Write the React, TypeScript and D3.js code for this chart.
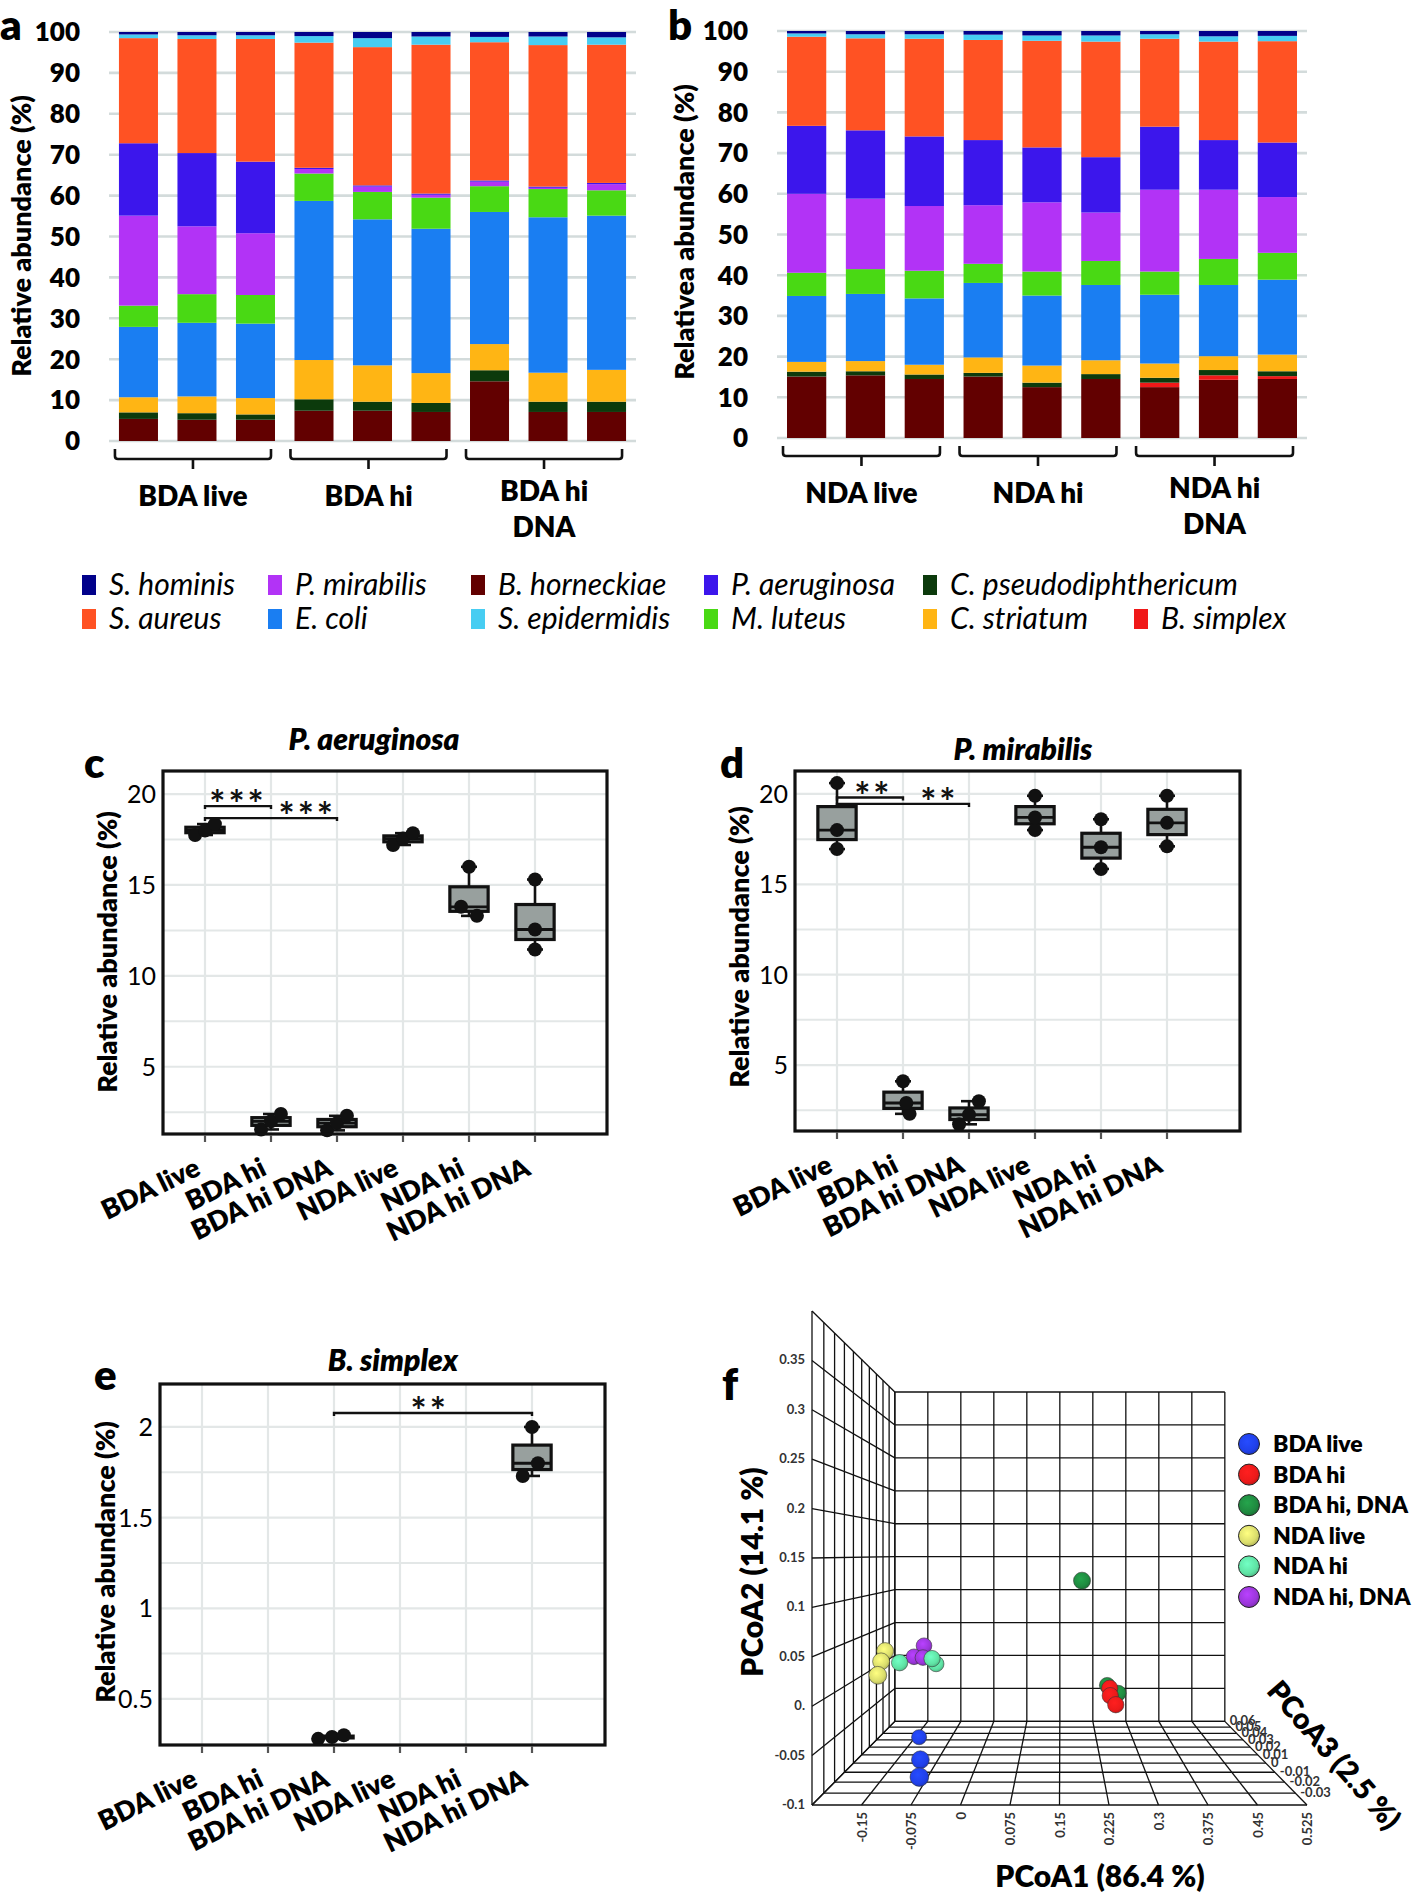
import React from 'react';
import * as d3 from 'd3';

const FONT = "Lato, 'Open Sans', 'DejaVu Sans', sans-serif";
const BOLD = 800;
const W = 1418;
const H = 1892;

// ---------------- panels a & b : stacked relative abundance ----------------
const speciesNames = ['B. horneckiae', 'B. simplex', 'C. pseudodiphthericum', 'C. striatum', 'E. coli', 'M. luteus', 'P. mirabilis', 'P. aeruginosa', 'S. aureus', 'S. epidermidis', 'S. hominis'];
const speciesColors = ['#620000', '#f01818', '#0c3a0c', '#ffb514', '#1a7ef2', '#49d914', '#b233f6', '#3c16ec', '#ff5223', '#47cdf2', '#01018a'];

const samplesA = ['BDA live 1', 'BDA live 2', 'BDA live 3', 'BDA hi 1', 'BDA hi 2', 'BDA hi 3', 'BDA hi DNA 1', 'BDA hi DNA 2', 'BDA hi DNA 3'];
const samplesB = ['NDA live 1', 'NDA live 2', 'NDA live 3', 'NDA hi 1', 'NDA hi 2', 'NDA hi 3', 'NDA hi DNA 1', 'NDA hi DNA 2', 'NDA hi DNA 3'];
const groupLabelsA = [['BDA live'], ['BDA hi'], ['BDA hi', 'DNA']];
const groupLabelsB = [['NDA live'], ['NDA hi'], ['NDA hi', 'DNA']];
const stackTicks = [0, 10, 20, 30, 40, 50, 60, 70, 80, 90, 100];

// panel a values (%), one array per species, one entry per sample
const aHorneckiae = [5.4, 5.2, 5.2, 7.4, 7.4, 7.1, 14.6, 7.1, 7.1];
const aSimplex = [0, 0, 0, 0, 0, 0, 0, 0, 0];
const aPseudo = [1.6, 1.6, 1.3, 2.8, 2.2, 2.2, 2.7, 2.5, 2.5];
const aStriatum = [3.7, 4.1, 4.0, 9.6, 8.9, 7.3, 6.4, 7.1, 7.8];
const aColi = [17.2, 18.0, 18.2, 38.9, 35.7, 35.3, 32.3, 38.0, 37.7];
const aLuteus = [5.2, 7.0, 7.0, 6.7, 6.7, 7.6, 6.3, 6.9, 6.2];
const aMirabilis = [22.0, 16.6, 15.1, 1.1, 1.3, 0.7, 1.1, 0.3, 1.5];
const aAeruginosa = [17.7, 17.9, 17.5, 0.3, 0.3, 0.3, 0.3, 0.3, 0.3];
const aAureus = [25.7, 27.9, 30.0, 30.6, 33.8, 36.4, 33.8, 34.6, 33.8];
const aEpidermidis = [0.9, 0.9, 0.9, 1.6, 2.2, 2.0, 1.3, 2.1, 1.8];
const aHominis = [0.6, 0.8, 0.8, 1.0, 1.5, 1.1, 1.2, 1.1, 1.3];

// panel b values (%)
const bHorneckiae = [15.1, 15.4, 14.5, 15.1, 12.5, 14.5, 12.5, 14.3, 14.5];
const bSimplex = [0, 0, 0, 0, 0, 0, 1.1, 1.1, 0.7];
const bPseudo = [1.2, 1.0, 1.1, 0.9, 1.1, 1.2, 1.2, 1.3, 1.2];
const bStriatum = [2.4, 2.5, 2.4, 3.8, 4.2, 3.4, 3.5, 3.4, 4.1];
const bColi = [16.2, 16.5, 16.3, 18.3, 17.2, 18.5, 16.9, 17.5, 18.4];
const bLuteus = [5.7, 6.1, 6.8, 4.7, 5.9, 5.9, 5.7, 6.4, 6.6];
const bMirabilis = [19.4, 17.3, 15.9, 14.4, 17.0, 11.9, 20.1, 17.0, 13.7];
const bAeruginosa = [16.7, 16.8, 17.1, 16.0, 13.5, 13.6, 15.5, 12.2, 13.4];
const bAureus = [21.9, 22.6, 24.0, 24.6, 26.2, 28.4, 21.6, 24.2, 24.9];
const bEpidermidis = [0.8, 1.0, 1.1, 1.3, 1.3, 1.5, 1.1, 1.3, 1.3];
const bHominis = [0.6, 0.8, 0.8, 0.9, 1.1, 1.1, 0.8, 1.3, 1.2];

const legendRow1 = ['S. hominis', 'P. mirabilis', 'B. horneckiae', 'P. aeruginosa', 'C. pseudodiphthericum'];
const legendRow2 = ['S. aureus', 'E. coli', 'S. epidermidis', 'M. luteus', 'C. striatum', 'B. simplex'];

// ---------------- panels c, d, e : box plots ----------------
const boxCategories = ['BDA live', 'BDA hi', 'BDA hi DNA', 'NDA live', 'NDA hi', 'NDA hi DNA'];
const aeruginosaPoints = [[17.75, 18.0, 18.35], [1.55, 2.0, 2.4], [1.5, 1.9, 2.3], [17.2, 17.55, 17.85], [13.3, 13.8, 16.0], [11.45, 12.55, 15.3]];
const aeruginosaJitter = [[-0.15, 0, 0.15], [-0.15, 0, 0.15], [-0.15, 0, 0.15], [-0.15, 0, 0.15], [0.12, -0.12, 0], [0, 0, 0]];
const mirabilisPoints = [[16.95, 18.0, 20.6], [2.3, 2.9, 4.1], [1.72, 2.25, 3.0], [18.0, 18.7, 19.9], [15.85, 17.05, 18.6], [17.1, 18.4, 19.9]];
const mirabilisJitter = [[0, 0, 0], [0.1, 0.05, 0], [-0.15, 0, 0.15], [0, 0, 0], [0, 0, 0], [0, 0, 0]];
const simplexPoints = [[], [], [0.28, 0.29, 0.3], [], [], [1.73, 1.8, 2.0]];
const simplexJitter = [[], [], [-0.24, -0.03, 0.15], [], [], [-0.14, 0.09, 0]];

const aeruginosaSig = [
  { from: 'BDA live', to: 'BDA hi', y: 19.34, label: '***', at: 0.5 },
  { from: 'BDA live', to: 'BDA hi DNA', y: 18.68, label: '***', at: 1.55 },
];
const mirabilisSig = [
  { from: 'BDA live', to: 'BDA hi', y: 19.8, label: '**', at: 0.55 },
  { from: 'BDA live', to: 'BDA hi DNA', y: 19.45, label: '**', at: 1.55 },
];
const simplexSig = [{ from: 'BDA hi DNA', to: 'NDA hi DNA', y: 2.077, label: '**', at: 3.45 }];

const pcTicks20 = [5, 10, 15, 20];
const pcMinor20 = [2.5, 7.5, 12.5, 17.5];
const bsTicks = [0.5, 1, 1.5, 2];
const bsMinor = [0.75, 1.25, 1.75];

// ---------------- panel f : PCoA ----------------
const pcoaGroups = ['BDA live', 'BDA hi', 'BDA hi, DNA', 'NDA live', 'NDA hi', 'NDA hi, DNA'];
const pcoaColors = ['#2040ea', '#ec1a1a', '#1f8a40', '#dadd6c', '#5fe3a4', '#9b36da'];
const pcoaGroupOf = [0, 0, 0, 1, 1, 1, 2, 2, 2, 3, 3, 3, 4, 4, 4, 5, 5, 5];
const pcoa1 = [-0.127, -0.082, -0.073, 0.241, 0.242, 0.252, 0.240, 0.261, 0.189, -0.154, -0.161, -0.153, -0.141, -0.082, -0.084, -0.107, -0.126, -0.109];
const pcoa2 = [-0.087, -0.075, -0.083, -0.009, -0.018, -0.029, -0.012, -0.022, 0.123, 0.041, 0.029, 0.019, 0.022, 0.027, 0.015, 0.038, 0.024, 0.023];
const pcoa3 = [0.02, -0.02, -0.03, 0.0, 0.0, 0.0, 0.01, 0.01, -0.01, -0.01, -0.01, -0.02, 0.0, 0.0, 0.01, 0.01, 0.01, 0.01];
const pc1Ticks = [-0.225, -0.15, -0.075, 0, 0.075, 0.15, 0.225, 0.3, 0.375, 0.45, 0.525];
const pc1Labels = ['', '-0.15', '-0.075', '0', '0.075', '0.15', '0.225', '0.3', '0.375', '0.45', '0.525'];
const pc2Ticks = [-0.1, -0.05, 0, 0.05, 0.1, 0.15, 0.2, 0.25, 0.3, 0.35, 0.4];
const pc2Labels = ['-0.1', '-0.05', '0.', '0.05', '0.1', '0.15', '0.2', '0.25', '0.3', '0.35', ''];
const pc3Ticks = [-0.04, -0.03, -0.02, -0.01, 0, 0.01, 0.02, 0.03, 0.04, 0.05, 0.06];
const pc3Labels = ['', '-0.03', '-0.02', '-0.01', '0', '0.01', '0.02', '0.03', '0.04', '0.05', '0.06'];

// ============================================================================

function buildRows(samples: string[], cols: number[][]) {
  return samples.map((s, i) => {
    const r: any = { sample: s };
    speciesNames.forEach((sp, k) => { r[sp] = cols[k][i]; });
    return r;
  });
}

const rowsA = buildRows(samplesA, [aHorneckiae, aSimplex, aPseudo, aStriatum, aColi, aLuteus, aMirabilis, aAeruginosa, aAureus, aEpidermidis, aHominis]);
const rowsB = buildRows(samplesB, [bHorneckiae, bSimplex, bPseudo, bStriatum, bColi, bLuteus, bMirabilis, bAeruginosa, bAureus, bEpidermidis, bHominis]);

function StackPanel(props: any) {
  const { samples, rows, groups, gx0, gx1, y0, y100, tickRight, title, titleX, titleY, letter, letterX } = props;
  const x = d3.scaleBand().domain(samples).range([gx0, gx1]).paddingInner(0.333).paddingOuter(0.17);
  const y = d3.scaleLinear().domain([0, 100]).range([y0, y100]);
  const series = d3.stack().keys(speciesNames)(rows);
  const bw = x.bandwidth();
  return (
    <g>
      {stackTicks.map((t) => (
        <g key={t}>
          <line x1={gx0} x2={gx1} y1={y(t)} y2={y(t)} stroke="#d3dbdb" strokeWidth={2.6} />
          <text x={tickRight} y={y(t)} dy="0.36em" textAnchor="end" fontSize={26} fontWeight={BOLD} fontFamily={FONT}>{t}</text>
        </g>
      ))}
      {series.map((s: any, k: number) => (
        <g key={k} fill={speciesColors[k]}>
          {s.map((d: any, i: number) => (d[1] - d[0] > 0 ? (
            <rect key={i} x={x(samples[i])} width={bw} y={y(d[1])} height={y(d[0]) - y(d[1])} />
          ) : null))}
        </g>
      ))}
      {groups.map((lab: string[], gi: number) => {
        const xa = (x(samples[gi * 3]) as number) - 4;
        const xb = (x(samples[gi * 3 + 2]) as number) + bw - 4;
        const xc = (xa + xb) / 2;
        const top = y0 + 8, hy = y0 + 18, bot = y0 + 28;
        return (
          <g key={gi}>
            <path d={`M${xa},${top} L${xa},${hy - 3} Q${xa},${hy} ${xa + 3},${hy} L${xb - 3},${hy} Q${xb},${hy} ${xb},${hy - 3} L${xb},${top} M${xc},${hy} L${xc},${bot}`}
              fill="none" stroke="#111" strokeWidth={2.6} strokeLinejoin="round" />
            {lab.length === 1 ? (
              <text x={xc} y={y0 + 65} textAnchor="middle" fontSize={28} fontWeight={BOLD} fontFamily={FONT}>{lab[0]}</text>
            ) : (
              <g>
                <text x={xc} y={y0 + 60} textAnchor="middle" fontSize={28} fontWeight={BOLD} fontFamily={FONT}>{lab[0]}</text>
                <text x={xc} y={y0 + 96} textAnchor="middle" fontSize={28} fontWeight={BOLD} fontFamily={FONT}>{lab[1]}</text>
              </g>
            )}
          </g>
        );
      })}
      <text transform={`translate(${titleX},${titleY}) rotate(-90)`} textAnchor="middle" fontSize={27} fontWeight={BOLD} fontFamily={FONT}>{title}</text>
      <text x={letterX} y={40} fontSize={42} fontWeight={BOLD} fontFamily={FONT}>{letter}</text>
    </g>
  );
}

function Legend() {
  const cols = [82, 268, 471, 704, 923, 1134];
  const rowsY = [585, 619];
  const colorOf = (n: string) => speciesColors[speciesNames.indexOf(n)];
  return (
    <g>
      {[legendRow1, legendRow2].map((row, ri) => row.map((n, ci) => (
        <g key={n}>
          <rect x={cols[ci]} y={rowsY[ri] - 10} width={14} height={20} fill={colorOf(n)} />
          <text x={cols[ci] + 27} y={rowsY[ri] + 10} fontSize={30} fontStyle="italic" fontFamily={FONT}>{n}</text>
        </g>
      )))}
    </g>
  );
}

function BoxPanel(props: any) {
  const { left, right, top, bottom, domain, points, jitter, sig, ticks, minor, title, titleX, titleY, letter, letterX, letterY, yTitleX, yTitleY, tickFmt } = props;
  const x = d3.scalePoint().domain(boxCategories).range([left + 42, left + 372]);
  const step = x.step();
  const y = d3.scaleLinear().domain(domain).range([bottom, top]);
  const bwid = step * 0.58;
  const capW = 16;
  return (
    <g>
      {minor.map((t: number) => <line key={'m' + t} x1={left} x2={right} y1={y(t)} y2={y(t)} stroke="#e3e7e7" strokeWidth={2} />)}
      {ticks.map((t: number) => <line key={'g' + t} x1={left} x2={right} y1={y(t)} y2={y(t)} stroke="#e3e7e7" strokeWidth={2.2} />)}
      {boxCategories.map((c) => <line key={'v' + c} x1={x(c)} x2={x(c)} y1={top} y2={bottom} stroke="#e3e7e7" strokeWidth={2.2} />)}
      {ticks.map((t: number) => (
        <text key={'t' + t} x={left - 7} y={y(t)} dy="0.36em" textAnchor="end" fontSize={25} fontFamily={FONT}>{tickFmt(t)}</text>
      ))}
      {boxCategories.map((c, i) => {
        const pts = (points[i] as number[]).slice().sort(d3.ascending);
        if (!pts.length) return null;
        const q1 = d3.quantile(pts, 0.25) as number;
        const med = d3.quantile(pts, 0.5) as number;
        const q3 = d3.quantile(pts, 0.75) as number;
        const lo = d3.min(pts) as number;
        const hi = d3.max(pts) as number;
        const cx = x(c) as number;
        return (
          <g key={c}>
            <line x1={cx} x2={cx} y1={y(hi)} y2={y(q3)} stroke="#111" strokeWidth={2.6} />
            <line x1={cx} x2={cx} y1={y(q1)} y2={y(lo)} stroke="#111" strokeWidth={2.6} />
            <line x1={cx - capW / 2} x2={cx + capW / 2} y1={y(hi)} y2={y(hi)} stroke="#111" strokeWidth={2.6} />
            <line x1={cx - capW / 2} x2={cx + capW / 2} y1={y(lo)} y2={y(lo)} stroke="#111" strokeWidth={2.6} />
            <rect x={cx - bwid / 2} width={bwid} y={y(q3)} height={Math.max(y(q1) - y(q3), 1)} fill="#98a09e" stroke="#111" strokeWidth={3.2} />
            <line x1={cx - bwid / 2} x2={cx + bwid / 2} y1={y(med)} y2={y(med)} stroke="#111" strokeWidth={2.8} />
            {(points[i] as number[]).map((v: number, k: number) => (
              <circle key={k} cx={cx + jitter[i][k] * step} cy={y(v)} r={7} fill="#111" />
            ))}
          </g>
        );
      })}
      {sig.map((s: any, k: number) => {
        const xa = x(s.from) as number;
        const xb = x(s.to) as number;
        const yy = y(s.y);
        const lx = (x(boxCategories[0]) as number) + s.at * step;
        return (
          <g key={k}>
            <path d={`M${xa},${yy + 3} L${xa},${yy} L${xb},${yy} L${xb},${yy + 3}`} fill="none" stroke="#111" strokeWidth={2.4} />
            <text x={lx} y={yy + 12} textAnchor="middle" fontSize={38} fontWeight={700} letterSpacing={3} fontFamily={FONT} fill="#111">{s.label}</text>
          </g>
        );
      })}
      <rect x={left} y={top} width={right - left} height={bottom - top} fill="none" stroke="#111" strokeWidth={3.2} />
      {boxCategories.map((c) => (
        <g key={'x' + c}>
          <line x1={x(c)} x2={x(c)} y1={bottom + 1} y2={bottom + 8} stroke="#555" strokeWidth={2.2} />
          <text transform={`translate(${(x(c) as number) - 3},${bottom + 40}) rotate(-26)`} textAnchor="end" fontSize={27} fontWeight={BOLD} fontFamily={FONT}>{c}</text>
        </g>
      ))}
      <text x={titleX} y={titleY} textAnchor="middle" fontSize={30} fontWeight={BOLD} fontStyle="italic" fontFamily={FONT}>{title}</text>
      <text transform={`translate(${yTitleX},${yTitleY}) rotate(-90)`} textAnchor="middle" fontSize={27} fontWeight={BOLD} fontFamily={FONT}>Relative abundance (%)</text>
      <text x={letterX} y={letterY} fontSize={42} fontWeight={BOLD} fontFamily={FONT}>{letter}</text>
    </g>
  );
}

function PcoaPanel() {
  const xF = d3.scaleLinear().domain([-0.225, 0.525]).range([812, 1307]);
  const yF = d3.scaleLinear().domain([-0.1, 0.4]).range([1805, 1311]);
  const tZ = d3.scaleLinear().domain([-0.04, 0.06]).range([0, 1]);
  const vx = 1060.5, vy = 1554;
  const proj = (a: number, b: number, c: number) => {
    const s = 1 / (1 + 0.5 * tZ(c));
    return [vx + s * (xF(a) - vx), vy + s * (yF(b) - vy), s];
  };
  const lines: any[] = [];
  const seg = (p: number[], q: number[], key: string) => lines.push(<line key={key} x1={p[0]} y1={p[1]} x2={q[0]} y2={q[1]} stroke="#111" strokeWidth={1.3} />);
  const x0 = -0.225, x1 = 0.525, y0 = -0.1, y1 = 0.4, zF = -0.04, zB = 0.06;
  pc1Ticks.forEach((v, i) => { seg(proj(v, y0, zB), proj(v, y1, zB), 'bx' + i); seg(proj(v, y0, zF), proj(v, y0, zB), 'fx' + i); });
  pc2Ticks.forEach((v, i) => { seg(proj(x0, v, zB), proj(x1, v, zB), 'by' + i); seg(proj(x0, v, zF), proj(x0, v, zB), 'ly' + i); });
  pc3Ticks.forEach((v, i) => { seg(proj(x0, y0, v), proj(x1, y0, v), 'fz' + i); seg(proj(x0, y0, v), proj(x0, y1, v), 'lz' + i); });

  const order = d3.range(pcoa1.length).sort((a, b) => d3.descending(pcoa3[a], pcoa3[b]));
  return (
    <g>
      <defs>
        {pcoaColors.map((c, i) => (
          <radialGradient key={i} id={'sph' + i} cx="0.42" cy="0.38" r="0.65">
            <stop offset="0%" stopColor={d3.color(c)!.brighter(0.5).formatHex()} />
            <stop offset="70%" stopColor={c} />
            <stop offset="100%" stopColor={d3.color(c)!.darker(0.6).formatHex()} />
          </radialGradient>
        ))}
      </defs>
      {lines}
      {pc2Ticks.map((v, i) => (
        <text key={'yl' + i} x={805} y={yF(v) + 4} textAnchor="end" fontSize={13} fontWeight={700} fill="#333" fontFamily={FONT}>{pc2Labels[i]}</text>
      ))}
      {pc1Ticks.map((v, i) => (
        <text key={'xl' + i} transform={`translate(${xF(v) + 5},${1812}) rotate(-90)`} textAnchor="end" fontSize={13} fontWeight={700} fill="#333" fontFamily={FONT}>{pc1Labels[i]}</text>
      ))}
      {pc3Ticks.map((v, i) => {
        const p = proj(x1, y0, v);
        return <text key={'zl' + i} x={p[0] + 5} y={p[1] + 4} fontSize={13} fontWeight={700} fill="#333" fontFamily={FONT}>{pc3Labels[i]}</text>;
      })}
      {order.map((i) => {
        const p = proj(pcoa1[i], pcoa2[i], pcoa3[i]);
        const g = pcoaGroupOf[i];
        return <circle key={'pt' + i} cx={p[0]} cy={p[1]} r={9.8 * p[2]} fill={`url(#sph${g})`} stroke="#333" strokeOpacity={0.7} strokeWidth={0.8} />;
      })}
      {pcoaGroups.map((g, i) => (
        <g key={g}>
          <circle cx={1249} cy={1444 + i * 30.6} r={10.5} fill={`url(#sph${i})`} stroke="#222" strokeWidth={1} />
          <text x={1273} y={1444 + i * 30.6 + 8} fontSize={23} fontWeight={BOLD} fontFamily={FONT}>{g}</text>
        </g>
      ))}
      <text x={1100} y={1887} textAnchor="middle" fontSize={30} fontWeight={BOLD} fontFamily={FONT}>PCoA1 (86.4 %)</text>
      <text transform="translate(763,1572) rotate(-90)" textAnchor="middle" fontSize={30} fontWeight={BOLD} fontFamily={FONT}>PCoA2 (14.1 %)</text>
      <text transform="translate(1334,1755) rotate(49)" textAnchor="middle" dy="0.35em" fontSize={29} fontWeight={BOLD} fontFamily={FONT}>PCoA3 (2.5 %)</text>
      <text x={722} y={1400} fontSize={44} fontWeight={BOLD} fontFamily={FONT}>f</text>
    </g>
  );
}

export default function App() {
  React.useEffect(() => { document.body.style.margin = '0'; }, []);
  return (
    <svg width={W} height={H} viewBox={`0 0 ${W} ${H}`} style={{ position: 'absolute', left: 0, top: 0, background: '#fff' }}>
      <rect width={W} height={H} fill="#fff" />
      <StackPanel samples={samplesA} rows={rowsA} groups={groupLabelsA} gx0={109} gx1={636} y0={441} y100={32} tickRight={80}
        title="Relative abundance (%)" titleX={31} titleY={236} letter="a" letterX={0} />
      <StackPanel samples={samplesB} rows={rowsB} groups={groupLabelsB} gx0={777} gx1={1307} y0={438} y100={31} tickRight={748}
        title="Relativea abundance (%)" titleX={694} titleY={232} letter="b" letterX={668} />
      <Legend />
      <BoxPanel left={163} right={607} top={771} bottom={1134} domain={[1.3, 21.27]} points={aeruginosaPoints} jitter={aeruginosaJitter} sig={aeruginosaSig}
        ticks={pcTicks20} minor={pcMinor20} title="P. aeruginosa" titleX={374} titleY={750} letter="c" letterX={84} letterY={778}
        yTitleX={117} yTitleY={952} tickFmt={(t: number) => String(t)} />
      <BoxPanel left={795} right={1240} top={771} bottom={1131} domain={[1.35, 21.27]} points={mirabilisPoints} jitter={mirabilisJitter} sig={mirabilisSig}
        ticks={pcTicks20} minor={pcMinor20} title="P. mirabilis" titleX={1023} titleY={760} letter="d" letterX={720} letterY={778}
        yTitleX={749} yTitleY={947} tickFmt={(t: number) => String(t)} />
      <BoxPanel left={160} right={605} top={1384} bottom={1745} domain={[0.246, 2.237]} points={simplexPoints} jitter={simplexJitter} sig={simplexSig}
        ticks={bsTicks} minor={bsMinor} title="B. simplex" titleX={393} titleY={1371} letter="e" letterX={94} letterY={1390}
        yTitleX={115} yTitleY={1562} tickFmt={(t: number) => String(t)} />
      <PcoaPanel />
    </svg>
  );
}
